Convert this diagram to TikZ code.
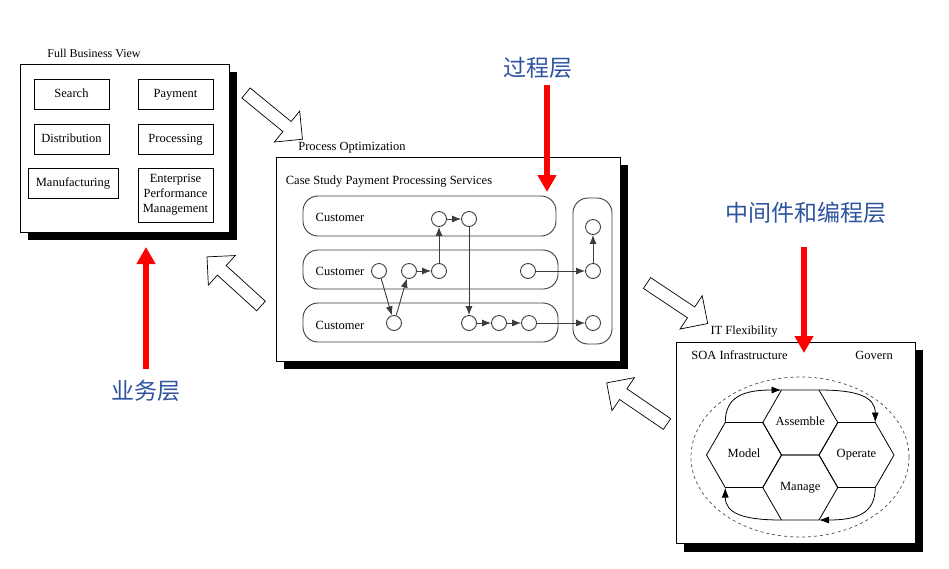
\documentclass[tikz,border=0pt]{standalone}
\usepackage{fontspec}
\setmainfont{Liberation Serif}
\newfontfamily\cjkfont{Noto Sans CJK SC}
\usetikzlibrary{arrows.meta,calc,shapes.geometric}
\definecolor{cjkblue}{RGB}{46,84,160}
\definecolor{laneline}{RGB}{60,60,60}
\newcommand\hollowarrow[2]{\draw[harrow,shift={#1},rotate=#2] (0,6.5) -- (53,6.5) -- (53,20) -- (73,0) -- (53,-20) -- (53,-6.5) -- (0,-6.5) -- cycle;}
\newcommand\hexaround[1]{\draw[hexline] ([shift={(-37.5,0)}]#1.center) -- ([shift={(-18.75,-32.5)}]#1.center) -- ([shift={(18.75,-32.5)}]#1.center) -- ([shift={(37.5,0)}]#1.center) -- ([shift={(18.75,32.5)}]#1.center) -- ([shift={(-18.75,32.5)}]#1.center) -- cycle;}
\begin{document}
\begin{tikzpicture}[x=1pt,y=-1pt,
  txt/.style={font=\fontsize{12.5}{15}\selectfont, inner sep=0pt},
  box/.style={draw, fill=white, line width=0.8pt, inner sep=0pt, align=center, font=\fontsize{12.5}{15}\selectfont},
  onebox/.style={box, text height=9pt, text depth=3pt},
  frame/.style={draw, fill=white, line width=0.8pt, inner sep=0pt},
  lane/.style={draw=laneline, line width=0.9pt, rounded corners=15pt, inner sep=0pt},
  dot/.style={circle, draw=laneline, fill=white, line width=0.9pt, minimum size=15pt, inner sep=0pt},
  flow/.style={draw=laneline, line width=0.9pt, -{Latex[length=9pt,width=7pt]}},
  hexline/.style={draw, line width=0.8pt, line join=miter},
  hextext/.style={font=\fontsize{12.5}{15}\selectfont, inner sep=0pt, text height=8.5pt, text depth=3pt},
  cycarrow/.style={draw, line width=0.8pt, -{Latex[length=10pt,width=7pt]}},
  harrow/.style={draw, fill=white, line width=0.7pt, line join=miter},
  redarrow/.style={draw=red, line width=5.5pt, -{Triangle[width=18pt,length=17pt]}},
  cjk/.style={font=\cjkfont\fontsize{23}{28}\selectfont, text=cjkblue, inner sep=0pt}
]
\useasboundingbox[fill=white] (0,0) rectangle (949,568);

% hollow block arrows
\hollowarrow{(246,93)}{-39.3}
\hollowarrow{(261,306)}{137.7}
\hollowarrow{(647,283)}{-33.7}
\hollowarrow{(667,424)}{145.7}

% ---------- Full Business View ----------
\fill[black] (28,72) rectangle (237,240);
\node[frame, minimum width=209, minimum height=168] (fbv) at (124.5,148) {};
\node[txt, font=\fontsize{12}{14}\selectfont] (fbvt) at (94,53) {Full Business View};
\node[onebox, minimum width=75, minimum height=30] (search) at (71.5,94) {Search};
\node[onebox, minimum width=75, minimum height=30] (payment) at (175.5,94) {Payment};
\node[onebox, minimum width=75, minimum height=30] (distr) at (71.5,139) {Distribution};
\node[onebox, minimum width=75, minimum height=30] (proc) at (175.5,139) {Processing};
\node[onebox, minimum width=90, minimum height=30] (manuf) at (73,183) {Manufacturing};
\node[box, minimum width=75, minimum height=54] (epm) at (175.5,195) {Enterprise\\Performance\\Management};

% ---------- Process Optimization ----------
\fill[black] (284,165) rectangle (628,369);
\node[frame, minimum width=344, minimum height=204] (po) at (448,259) {};
\node[txt] (pot) at (352,148) {Process Optimization};
\node[txt] (cs) at (389,182) {Case Study Payment Processing Services};
\node[lane, minimum width=253, minimum height=40] (lane1) at (429.5,216) {};
\node[lane, minimum width=255, minimum height=39] (lane2) at (430.5,269.5) {};
\node[lane, minimum width=255, minimum height=39] (lane3) at (430.5,322.5) {};
\node[lane, minimum width=39, minimum height=146] (laner) at (592.5,271) {};
\node[txt] (cu1) at (340,217) {Customer};
\node[txt] (cu2) at (340,271) {Customer};
\node[txt] (cu3) at (340,325) {Customer};
\node[dot] (c11) at (439,219) {};
\node[dot] (c12) at (469,219) {};
\node[dot] (c21) at (379,271) {};
\node[dot] (c22) at (409,271) {};
\node[dot] (c23) at (439,271) {};
\node[dot] (c24) at (528,271) {};
\node[dot] (c31) at (394,323) {};
\node[dot] (c32) at (469,323) {};
\node[dot] (c33) at (499,323) {};
\node[dot] (c34) at (529,323) {};
\node[dot] (r1) at (593,227) {};
\node[dot] (r2) at (593,271) {};
\node[dot] (r3) at (593,323) {};
\draw[flow] (c21) -- (c31);
\draw[flow] (c31) -- (c22);
\draw[flow] (c22) -- (c23);
\draw[flow] (c23) -- (c11);
\draw[flow] (c11) -- (c12);
\draw[flow] (c12) -- (c32);
\draw[flow] (c32) -- (c33);
\draw[flow] (c33) -- (c34);
\draw[flow] (c34) -- (r3);
\draw[flow] (c24) -- (r2);
\draw[flow] (r2) -- (r1);

% ---------- IT Flexibility ----------
\fill[black] (684,350) rectangle (923,552);
\node[frame, minimum width=239, minimum height=201] (itf) at (795.5,442.5) {};
\node[txt] (itft) at (744,332) {IT Flexibility};
\node[txt] (soa) at (739.5,355) {SOA Infrastructure};
\node[txt] (gov) at (874,355) {Govern};
\draw[dashed, draw=black!70, line width=0.7pt] (800,457) ellipse [x radius=109pt, y radius=80pt];
\node[hextext] (model) at (744,455) {Model};
\node[hextext] (assem) at (800.25,422.5) {Assemble};
\node[hextext] (oper) at (856.5,455) {Operate};
\node[hextext] (manag) at (800.25,487.5) {Manage};
\hexaround{model}
\hexaround{assem}
\hexaround{oper}
\hexaround{manag}
\coordinate (mtl) at ($(model)+(-18.75,-32.5)$);
\coordinate (mbl) at ($(model)+(-18.75,32.5)$);
\coordinate (atl) at ($(assem)+(-18.75,-32.5)$);
\coordinate (atr) at ($(assem)+(18.75,-32.5)$);
\coordinate (otr) at ($(oper)+(18.75,-32.5)$);
\coordinate (obr) at ($(oper)+(18.75,32.5)$);
\coordinate (gbr) at ($(manag)+(18.75,32.5)$);
\coordinate (gbl) at ($(manag)+(-18.75,32.5)$);
\draw[cycarrow] (mtl) .. controls ($(mtl)+(0,-26)$) and ($(atl)+(-38,0)$) .. (atl);
\draw[cycarrow] (atr) .. controls ($(atr)+(38,0)$) and ($(otr)+(0,-26)$) .. (otr);
\draw[cycarrow] (obr) .. controls ($(obr)+(0,26)$) and ($(gbr)+(38,0)$) .. (gbr);
\draw[cycarrow] (gbl) .. controls ($(gbl)+(-38,0)$) and ($(mbl)+(0,26)$) .. (mbl);

% ---------- red arrows and Chinese labels ----------
\node[cjk] (lbl1) at (538,68) {过程层};
\node[cjk] (lbl2) at (806,213) {中间件和编程层};
\node[cjk] (lbl3) at (146,391) {业务层};
\coordinate (ra1s) at (547,85);
\coordinate (ra1e) at (547,192);
\coordinate (ra2s) at (804,247);
\coordinate (ra2e) at (804,353);
\coordinate (ra3s) at (146,369);
\coordinate (ra3e) at (146,247);
\draw[redarrow] (ra1s) -- (ra1e);
\draw[redarrow] (ra2s) -- (ra2e);
\draw[redarrow] (ra3s) -- (ra3e);
\end{tikzpicture}
\end{document}
